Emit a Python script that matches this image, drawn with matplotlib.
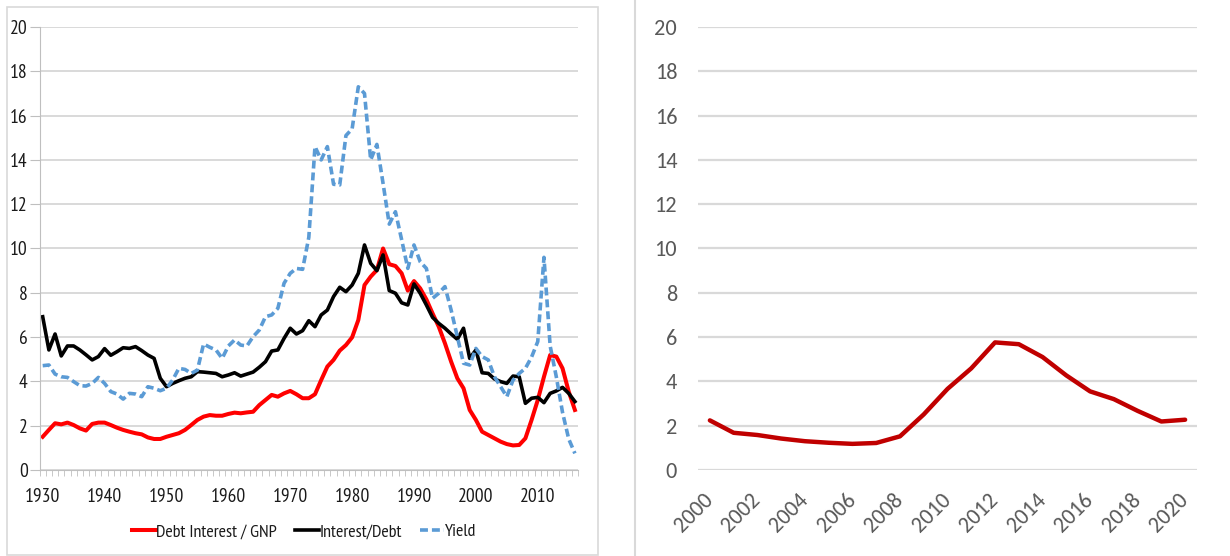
import numpy as np
import matplotlib
matplotlib.use("Agg")
import matplotlib.pyplot as plt
from matplotlib.lines import Line2D
from matplotlib.patches import Rectangle

# left chart: 1930-2016, percent
years_left = np.arange(1930, 2017)
debt_interest_gnp = [
    1.50, 1.81, 2.11, 2.06, 2.14, 2.03, 1.88, 1.78, 2.08, 2.14,
    2.14, 2.03, 1.91, 1.81, 1.73, 1.66, 1.61, 1.47, 1.40, 1.40,
    1.50, 1.58, 1.66, 1.81, 2.03, 2.26, 2.41, 2.48, 2.45, 2.45,
    2.53, 2.59, 2.56, 2.60, 2.63, 2.93, 3.16, 3.39, 3.31, 3.46,
    3.57, 3.42, 3.24, 3.24, 3.42, 4.06, 4.67, 4.97, 5.39, 5.64,
    5.99, 6.77, 8.35, 8.73, 9.03, 10.0, 9.29, 9.21, 8.88, 8.10,
    8.53, 8.20, 7.70, 7.07, 6.47, 5.72, 4.89, 4.14, 3.69, 2.71,
    2.26, 1.73, 1.58, 1.43, 1.28, 1.17, 1.11, 1.13, 1.43, 2.26,
    3.16, 4.21, 5.19, 5.12, 4.59, 3.54, 2.71]
interest_debt = [
    6.92, 5.42, 6.14, 5.15, 5.60, 5.60, 5.42, 5.20, 4.97, 5.12,
    5.48, 5.18, 5.34, 5.52, 5.49, 5.57, 5.39, 5.19, 5.04, 4.14,
    3.76, 3.91, 4.03, 4.14, 4.21, 4.44, 4.42, 4.39, 4.36, 4.21,
    4.29, 4.39, 4.24, 4.33, 4.42, 4.64, 4.89, 5.37, 5.42, 5.94,
    6.40, 6.14, 6.29, 6.74, 6.47, 7.00, 7.22, 7.83, 8.25, 8.05,
    8.35, 8.88, 10.16, 9.33, 9.00, 9.71, 8.10, 7.98, 7.55, 7.45,
    8.40, 7.98, 7.45, 6.89, 6.62, 6.40, 6.14, 5.90, 6.40, 5.04,
    5.42, 4.39, 4.36, 4.11, 3.99, 3.91, 4.24, 4.21, 3.01, 3.24,
    3.28, 3.04, 3.46, 3.57, 3.73, 3.46, 3.09]
yield_pct = [
    4.71, 4.74, 4.33, 4.21, 4.18, 3.99, 3.81, 3.79, 3.91, 4.18,
    3.91, 3.54, 3.43, 3.20, 3.46, 3.43, 3.31, 3.76, 3.69, 3.58,
    3.69, 4.06, 4.59, 4.54, 4.36, 4.51, 5.69, 5.54, 5.42, 5.04,
    5.60, 5.87, 5.64, 5.60, 6.02, 6.32, 6.92, 7.00, 7.30, 8.43,
    8.88, 9.10, 9.06, 10.5, 14.6, 14.0, 14.6, 12.9, 12.87, 15.1,
    15.4, 17.3, 17.0, 14.0, 14.7, 12.94, 11.1, 11.66, 10.4, 9.1,
    10.16, 9.4, 9.1, 7.75, 7.98, 8.28, 7.22, 6.02, 4.82, 4.74,
    5.49, 5.12, 4.97, 4.21, 3.76, 3.31, 4.06, 4.36, 4.59, 5.1,
    5.8, 9.6, 5.6, 4.2, 2.6, 1.4, 0.75]
left_labels = ['1930', '1940', '1950', '1960', '1970', '1980', '1990', '2000', '2010']

# right chart: 2000-2020
years_right = np.arange(2000, 2021)
right_values = [2.24, 1.68, 1.58, 1.42, 1.30, 1.23, 1.18, 1.22, 1.52, 2.51,
                3.66, 4.59, 5.76, 5.68, 5.10, 4.27, 3.55, 3.20, 2.67, 2.19, 2.27]

yticks = [0, 2, 4, 6, 8, 10, 12, 14, 16, 18, 20]

W, H = 1230, 556
fig = plt.figure(figsize=(W / 100, H / 100), dpi=100)

narrow = ['PT Sans Narrow', 'DejaVu Sans']
calibri = ['Carlito', 'DejaVu Sans']

# panel frames
fig.patches.append(Rectangle((7 / W, 1 - 555 / H), 591 / W, 548 / H, transform=fig.transFigure,
                             fill=False, edgecolor='#d9d9d9', lw=1.2))
fig.add_artist(Line2D([635 / W, 635 / W], [0, 1], transform=fig.transFigure, color='#d9d9d9', lw=1.5))

# ---- left chart
ax = fig.add_axes([39.6 / W, 1 - 470 / H, 538.4 / W, 443 / H])
ax.plot(years_left, debt_interest_gnp, color='#ff0000', lw=2.9, label='Debt Interest / GNP')
ax.plot(years_left, interest_debt, color='black', lw=2.6, label='Interest/Debt')
ax.plot(years_left, yield_pct, color='#5b9bd5', lw=2.6, ls=(0, (2.2, 1.1)), label='Yield')
ax.set_xlim(1929.5, 2016.5)
ax.set_ylim(0, 20)
ax.set_xticks([int(s) for s in left_labels])
ax.set_xticklabels(left_labels, family=narrow, fontsize=14, color='#1a1a1a')
ax.set_yticks(yticks)
ax.set_yticklabels([str(v) for v in yticks], family=narrow, fontsize=14, color='#1a1a1a')
ax.set_xticks(np.arange(1929.5, 2017, 1), minor=True)
ax.tick_params(axis='x', which='major', length=0, pad=13)
ax.tick_params(axis='x', which='minor', length=4, color='#bfbfbf', direction='out')
ax.tick_params(axis='y', length=7, color='#bfbfbf', pad=1.5)
ax.grid(axis='y', color='#cfcfcf', lw=1.1)
ax.set_axisbelow(True)
for s in ['top', 'right']:
    ax.spines[s].set_visible(False)
for s in ['left', 'bottom']:
    ax.spines[s].set_color('#bfbfbf')
ax.legend(loc='center', bbox_to_anchor=(304 / W, 1 - 532 / H), bbox_transform=fig.transFigure,
          ncol=3, frameon=False, prop={'family': narrow, 'size': 13},
          handlelength=1.3, handletextpad=0.05, columnspacing=1.0, labelcolor='#1a1a1a')

# ---- right chart
ax2 = fig.add_axes([698 / W, 1 - 470 / H, 499 / W, 443 / H])
ax2.plot(years_right, right_values, color='#c00000', lw=3.2, solid_capstyle='round')
ax2.set_xlim(1999.5, 2020.5)
ax2.set_ylim(0, 20)
ax2.set_yticks(yticks)
ax2.set_yticklabels([str(v) for v in yticks], fontsize=16, color='#595959', family=calibri)
ax2.set_xticks(years_right[::2])
ax2.set_xticklabels([str(y) for y in years_right[::2]], rotation=45, ha='right', va='center',
                    rotation_mode='anchor', fontsize=16, color='#595959', family=calibri)
ax2.tick_params(axis='both', length=0)
ax2.tick_params(axis='y', pad=15)
ax2.tick_params(axis='x', pad=19)
ax2.grid(axis='y', color='#d9d9d9', lw=1.6)
ax2.set_axisbelow(True)
for s in ax2.spines.values():
    s.set_visible(False)

fig.savefig('out.png', dpi=100)
